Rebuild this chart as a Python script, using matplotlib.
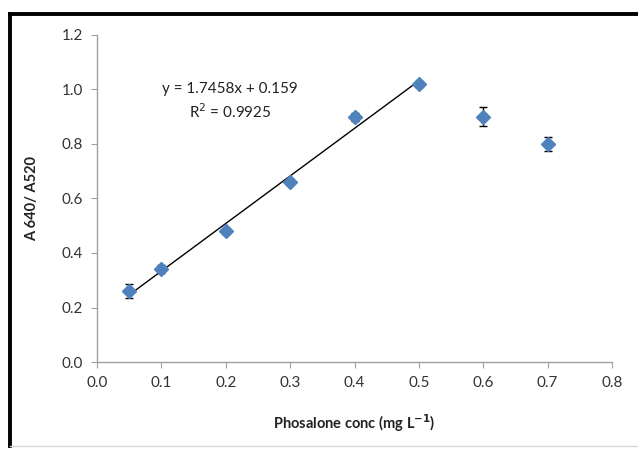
import numpy as np
import matplotlib
matplotlib.use("Agg")
import matplotlib.pyplot as plt
from matplotlib.lines import Line2D

plt.rcParams['font.family'] = ['Lato', 'DejaVu Sans']

# data
conc = [0.05, 0.1, 0.2, 0.3, 0.4, 0.5, 0.6, 0.7]
ratio = [0.26, 0.34, 0.48, 0.66, 0.90, 1.02, 0.90, 0.80]
err = [0.025, 0.015, 0.012, 0.012, 0.015, 0.012, 0.035, 0.025]

# linear trendline (first six points)
slope = 1.7458
intercept = 0.159
fit_x = [0.05, 0.5]

x_ticks = [0.0, 0.1, 0.2, 0.3, 0.4, 0.5, 0.6, 0.7, 0.8]
y_ticks = [0.0, 0.2, 0.4, 0.6, 0.8, 1.0, 1.2]

W, H = 638, 454
fig = plt.figure(figsize=(W / 100, H / 100), dpi=100)
ax = fig.add_axes([97 / W, 1 - 362 / H, (612 - 97) / W, (362 - 35) / H])

fx = np.array(fit_x)
ax.plot(fx, slope * fx + intercept, color='black', linewidth=1.0, zorder=2)

ax.errorbar(conc, ratio, yerr=err, fmt='D', color='#4F81BD', markersize=7.5,
            ecolor='black', elinewidth=1.0, capsize=3, capthick=1.0, zorder=3)

ax.set_xlim(0.0, 0.8)
ax.set_ylim(0.0, 1.2)
ax.set_xticks(x_ticks)
ax.set_yticks(y_ticks)
ax.set_xticklabels([f'{v:.1f}' for v in x_ticks])
ax.set_yticklabels([f'{v:.1f}' for v in y_ticks])

for s in ['top', 'right']:
    ax.spines[s].set_visible(False)
for s in ['left', 'bottom']:
    ax.spines[s].set_color('#A0A0A0')
    ax.spines[s].set_linewidth(1.0)
ax.tick_params(direction='out', length=4, color='#A0A0A0', labelsize=11,
               labelcolor='#333333', pad=6)

ax.set_xlabel('Phosalone conc (mg L$^{\\mathbf{-1}}$)', fontsize=10.5,
              fontweight='bold', color='#222222', labelpad=16)
ax.set_ylabel('A 640/ A520', fontsize=10.5, fontweight='bold', color='#222222',
              labelpad=16)

ax.text(0.207, 1.0, 'y = 1.7458x + 0.159', ha='center', va='center',
        fontsize=11, color='#222222')
ax.text(0.207, 0.92, 'R$^2$ = 0.9925', ha='center', va='center',
        fontsize=11, color='#222222')

# outer frame of the original figure
fig.add_artist(Line2D([10 / W, 10 / W], [1 - 14 / H, 1 - 446 / H],
                      transform=fig.transFigure, color='black', linewidth=2.8))
fig.add_artist(Line2D([10 / W, 1.0], [1 - 14 / H, 1 - 14 / H],
                      transform=fig.transFigure, color='black', linewidth=2.8))
fig.add_artist(Line2D([10 / W, 1.0], [1 - 446 / H, 1 - 446 / H],
                      transform=fig.transFigure, color='#D8D8D8', linewidth=1.0))

fig.savefig('out.png', dpi=100, facecolor='white')
